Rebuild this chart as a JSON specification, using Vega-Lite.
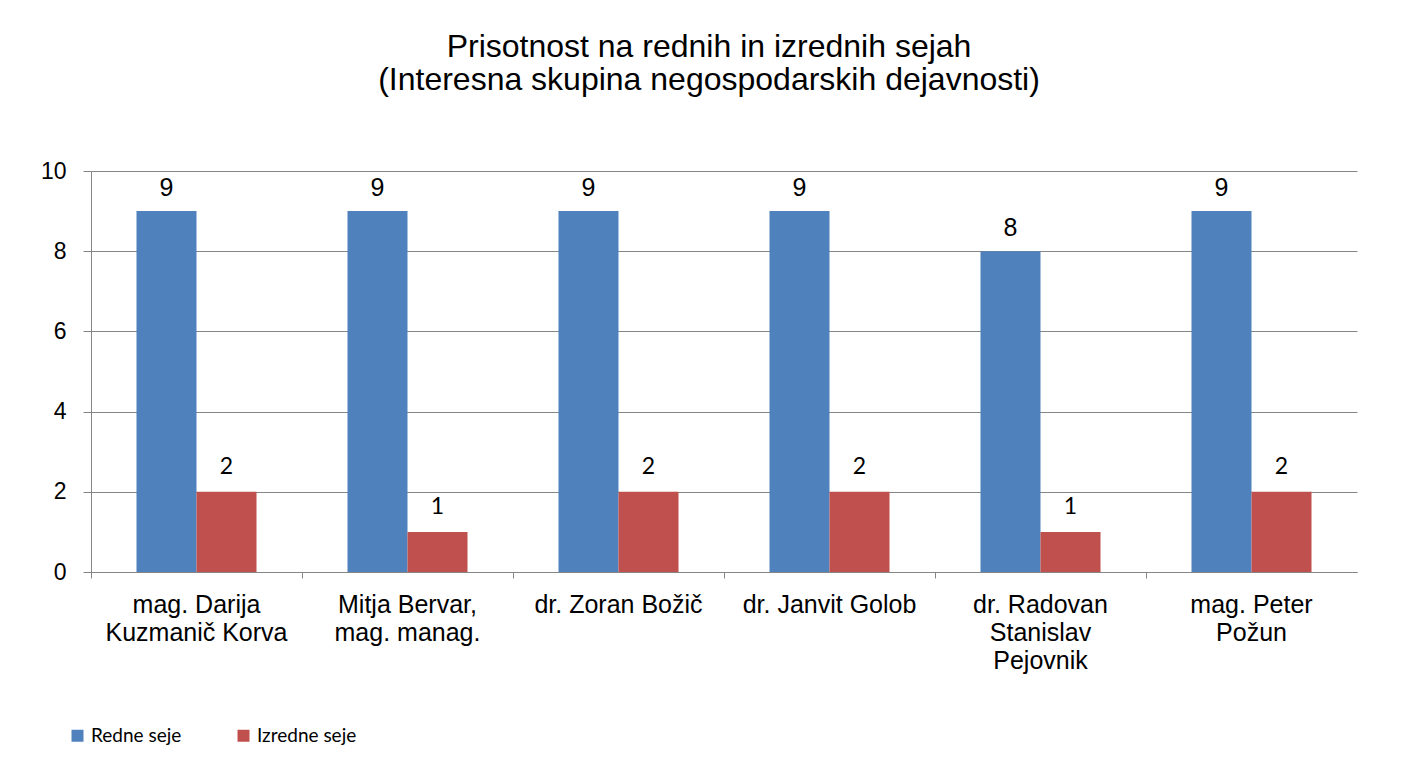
{
  "$schema": "https://vega.github.io/schema/vega-lite/v6.json",
  "width": 1266,
  "height": 401,
  "autosize": {"type": "none"},
  "padding": {"left": 91, "top": 171, "right": 59, "bottom": 196},
  "background": "white",
  "title": {
    "text": ["Prisotnost na rednih in izrednih sejah", "(Interesna skupina negospodarskih dejavnosti)"],
    "font": "Liberation Sans",
    "fontSize": 32,
    "fontWeight": "normal",
    "color": "#000000",
    "lineHeight": 33,
    "baseline": "alphabetic",
    "anchor": "middle",
    "dx": -15,
    "offset": 38
  },
  "data": {
    "values": [
      {"ime": "mag. Darija\nKuzmanič Korva", "vrsta": "Redne seje", "seje": 9},
      {"ime": "mag. Darija\nKuzmanič Korva", "vrsta": "Izredne seje", "seje": 2},
      {"ime": "Mitja Bervar,\nmag. manag.", "vrsta": "Redne seje", "seje": 9},
      {"ime": "Mitja Bervar,\nmag. manag.", "vrsta": "Izredne seje", "seje": 1},
      {"ime": "dr. Zoran Božič", "vrsta": "Redne seje", "seje": 9},
      {"ime": "dr. Zoran Božič", "vrsta": "Izredne seje", "seje": 2},
      {"ime": "dr. Janvit Golob", "vrsta": "Redne seje", "seje": 9},
      {"ime": "dr. Janvit Golob", "vrsta": "Izredne seje", "seje": 2},
      {"ime": "dr. Radovan\nStanislav\nPejovnik", "vrsta": "Redne seje", "seje": 8},
      {"ime": "dr. Radovan\nStanislav\nPejovnik", "vrsta": "Izredne seje", "seje": 1},
      {"ime": "mag. Peter\nPožun", "vrsta": "Redne seje", "seje": 9},
      {"ime": "mag. Peter\nPožun", "vrsta": "Izredne seje", "seje": 2}
    ]
  },
  "encoding": {
    "x": {
      "field": "ime",
      "type": "nominal",
      "sort": null,
      "scale": {"paddingInner": 0, "paddingOuter": 0},
      "axis": {
        "title": null,
        "labelAngle": 0,
        "labelExpr": "split(datum.value, '\\n')",
        "labelFont": "Liberation Sans",
        "labelFontSize": 25,
        "labelColor": "#000000",
        "labelLineHeight": 28,
        "labelBaseline": "top",
        "labelPadding": 14,
        "labelLimit": 0,
        "bandPosition": 0,
        "tickSize": 6,
        "tickColor": "#868686",
        "domainColor": "#868686",
        "grid": false
      }
    },
    "xOffset": {
      "field": "vrsta",
      "type": "nominal",
      "sort": ["Redne seje", "Izredne seje"],
      "scale": {"paddingInner": 0, "paddingOuter": 0.758}
    },
    "y": {
      "field": "seje",
      "type": "quantitative",
      "scale": {"domain": [0, 10], "nice": false},
      "axis": {
        "title": null,
        "values": [0, 2, 4, 6, 8, 10],
        "labelFont": "Liberation Sans",
        "labelFontSize": 23,
        "labelColor": "#000000",
        "labelPadding": 17,
        "tickSize": 8,
        "tickColor": "#868686",
        "domainColor": "#868686",
        "gridColor": "#868686",
        "gridOpacity": 1,
        "grid": true
      }
    }
  },
  "layer": [
    {
      "mark": {"type": "bar"},
      "encoding": {
        "color": {
          "field": "vrsta",
          "type": "nominal",
          "sort": ["Redne seje", "Izredne seje"],
          "scale": {"domain": ["Redne seje", "Izredne seje"], "range": ["#4F81BD", "#C0504D"]},
          "legend": {
            "title": null,
            "orient": "none",
            "legendX": -23,
            "legendY": 555,
            "direction": "horizontal",
            "symbolType": "square",
            "symbolSize": 144,
            "symbolStrokeWidth": 0,
            "symbolOpacity": 1,
            "labelFont": "Lato",
            "labelFontSize": 19,
            "labelColor": "#000000",
            "labelOffset": 4,
            "columnPadding": 52,
            "padding": 0
          }
        }
      }
    },
    {
      "transform": [{"filter": "datum.vrsta == 'Redne seje'"}],
      "mark": {"type": "text", "font": "Liberation Sans", "fontSize": 25, "baseline": "alphabetic", "dy": -15, "color": "#000000"},
      "encoding": {"text": {"field": "seje", "type": "quantitative"}}
    },
    {
      "transform": [{"filter": "datum.vrsta == 'Izredne seje'"}],
      "mark": {"type": "text", "font": "Lato", "fontSize": 23, "baseline": "alphabetic", "dy": -18, "color": "#000000"},
      "encoding": {"text": {"field": "seje", "type": "quantitative"}}
    }
  ],
  "config": {
    "view": {"stroke": null},
    "axis": {"domainWidth": 1, "tickWidth": 1, "gridWidth": 1}
  }
}
